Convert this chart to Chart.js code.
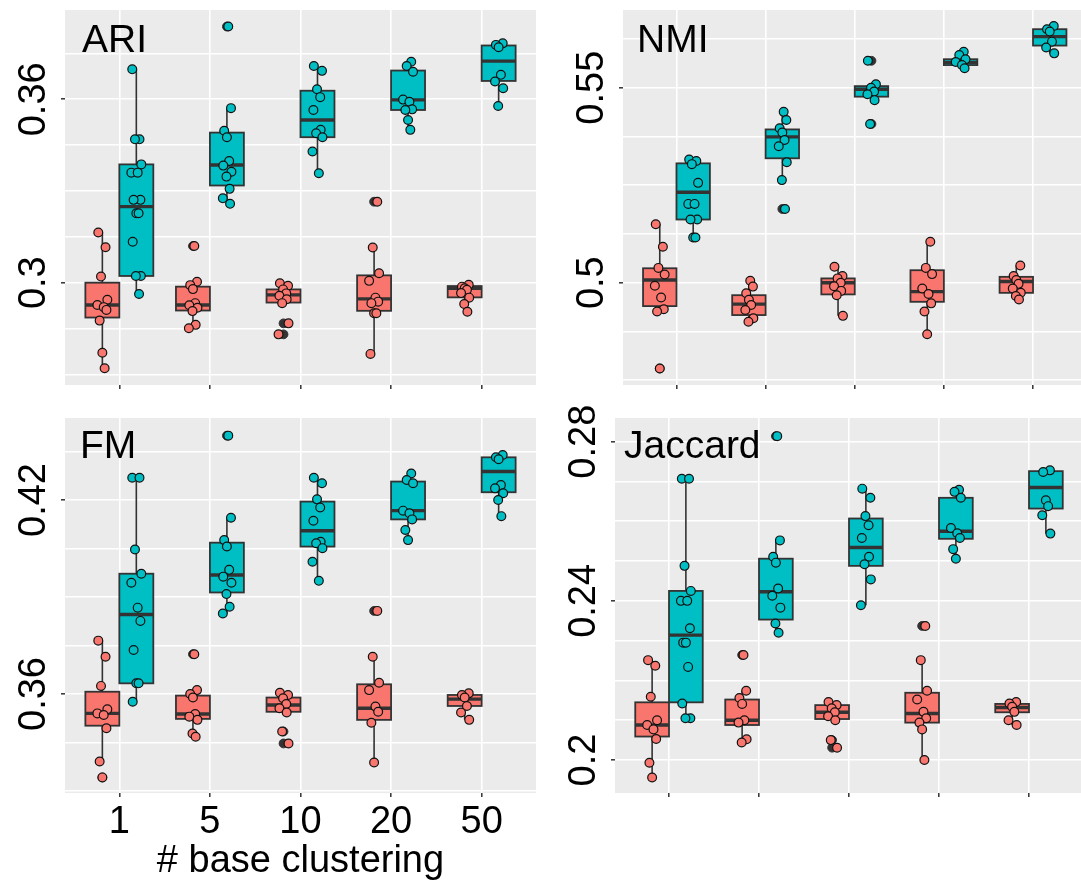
<!DOCTYPE html>
<html>
<head>
<meta charset="utf-8">
<script src="https://cdn.jsdelivr.net/npm/chart.js@4.4.1/dist/chart.umd.min.js"></script>
<style>
  html, body { margin: 0; padding: 0; background: #ffffff; width: 1081px; height: 882px; overflow: hidden; position: relative; }
  canvas { position: absolute; }
</style>
</head>
<body>
<canvas id="ari" width="540" height="400" style="left:0px;top:0px;"></canvas>
<canvas id="nmi" width="560" height="400" style="left:540px;top:0px;"></canvas>
<canvas id="fm" width="540" height="482" style="left:0px;top:400px;"></canvas>
<canvas id="jaccard" width="560" height="482" style="left:540px;top:400px;"></canvas>
<script>
// Number of base clusterings on the x axis
const categories = ['1', '5', '10', '20', '50'];

// ---- ARI ----
const ariSalmon = [
  [0.3164, 0.3116, 0.3020, 0.2944, 0.2927, 0.2920, 0.2911, 0.2876, 0.2771, 0.2720],
  [0.3120, 0.3003, 0.2992, 0.2979, 0.2933, 0.2926, 0.2918, 0.2907, 0.2862, 0.2851],
  [0.2998, 0.2990, 0.2978, 0.2965, 0.2957, 0.2946, 0.2933, 0.2867, 0.2831],
  [0.3265, 0.3115, 0.3031, 0.3006, 0.2951, 0.2938, 0.2933, 0.2900, 0.2900, 0.2767],
  [0.2993, 0.2987, 0.2982, 0.2977, 0.2966, 0.2951, 0.2930, 0.2905]
];
const ariTeal = [
  [0.3698, 0.3469, 0.3469, 0.3387, 0.3360, 0.3360, 0.3271, 0.3271, 0.3227, 0.3227, 0.3134, 0.3022, 0.3022, 0.2963],
  [0.3838, 0.3571, 0.3497, 0.3476, 0.3398, 0.3383, 0.3363, 0.3347, 0.3307, 0.3276, 0.3258],
  [0.3709, 0.3693, 0.3633, 0.3607, 0.3565, 0.3500, 0.3489, 0.3476, 0.3429, 0.3358],
  [0.3723, 0.3709, 0.3690, 0.3599, 0.3592, 0.3567, 0.3565, 0.3532, 0.3500],
  [0.3783, 0.3778, 0.3770, 0.3680, 0.3658, 0.3636, 0.3578]
];
// box summaries: [lower whisker, Q1, median, Q3, upper whisker]
const ariSalmonBox = [
  [0.2720, 0.2886, 0.2927, 0.3000, 0.3164],
  [0.2851, 0.2909, 0.2927, 0.2987, 0.3003],
  [0.2933, 0.2935, 0.2960, 0.2978, 0.2998],
  [0.2767, 0.2908, 0.2947, 0.3024, 0.3115],
  [0.2905, 0.2952, 0.2982, 0.2989, 0.2993]
];
const ariTealBox = [
  [0.2963, 0.3022, 0.3249, 0.3387, 0.3698],
  [0.3258, 0.3318, 0.3385, 0.3491, 0.3571],
  [0.3358, 0.3476, 0.3532, 0.3628, 0.3709],
  [0.3500, 0.3565, 0.3598, 0.3694, 0.3723],
  [0.3578, 0.3660, 0.3725, 0.3776, 0.3783]
];
const ariGrid = [0.27, 0.285, 0.30, 0.315, 0.33, 0.345, 0.36, 0.375];
const ariTicks = [0.30, 0.36];
const ariTickLabels = ['0.3', '0.36'];

// ---- NMI ----
const nmiSalmon = [
  [0.5150, 0.5092, 0.5038, 0.5021, 0.4992, 0.4962, 0.4932, 0.4926, 0.4780],
  [0.5005, 0.4990, 0.4973, 0.4956, 0.4943, 0.4930, 0.4909, 0.4900],
  [0.5041, 0.5017, 0.5011, 0.5000, 0.4991, 0.4979, 0.4968, 0.4915],
  [0.5105, 0.5038, 0.5022, 0.4985, 0.4971, 0.4947, 0.4926, 0.4868],
  [0.5044, 0.5017, 0.5007, 0.4997, 0.4985, 0.4974, 0.4966, 0.4957]
];
const nmiTeal = [
  [0.5316, 0.5312, 0.5304, 0.5256, 0.5202, 0.5202, 0.5162, 0.5162, 0.5116, 0.5116],
  [0.5438, 0.5417, 0.5396, 0.5385, 0.5366, 0.5350, 0.5309, 0.5263, 0.5189],
  [0.5569, 0.5509, 0.5500, 0.5490, 0.5483, 0.5468, 0.5407],
  [0.5592, 0.5584, 0.5573, 0.5566, 0.5558, 0.5550],
  [0.5658, 0.5650, 0.5644, 0.5618, 0.5603, 0.5588]
];
const nmiSalmonBox = [
  [0.4926, 0.4940, 0.5007, 0.5037, 0.5150],
  [0.4900, 0.4917, 0.4945, 0.4968, 0.5005],
  [0.4915, 0.4970, 0.5000, 0.5011, 0.5041],
  [0.4868, 0.4951, 0.4977, 0.5032, 0.5105],
  [0.4957, 0.4974, 0.5003, 0.5015, 0.5044]
];
const nmiTealBox = [
  [0.5116, 0.5162, 0.5232, 0.5306, 0.5316],
  [0.5263, 0.5319, 0.5374, 0.5393, 0.5438],
  [0.5468, 0.5477, 0.5496, 0.5504, 0.5509],
  [0.5550, 0.5558, 0.5565, 0.5573, 0.5592],
  [0.5588, 0.5608, 0.5631, 0.5650, 0.5658]
];
const nmiGrid = [0.475, 0.4875, 0.50, 0.5125, 0.525, 0.5375, 0.55, 0.5625];
const nmiTicks = [0.50, 0.55];
const nmiTickLabels = ['0.5', '0.55'];

// ---- FM ----
const fmSalmon = [
  [0.3765, 0.3715, 0.3625, 0.3553, 0.3540, 0.3535, 0.3494, 0.3391, 0.3342],
  [0.3723, 0.3612, 0.3600, 0.3589, 0.3538, 0.3530, 0.3520, 0.3478, 0.3468],
  [0.3604, 0.3597, 0.3587, 0.3569, 0.3556, 0.3543, 0.3484, 0.3447],
  [0.3857, 0.3715, 0.3635, 0.3612, 0.3561, 0.3545, 0.3511, 0.3388],
  [0.3602, 0.3597, 0.3589, 0.3563, 0.3543, 0.3520]
];
const fmTeal = [
  [0.4269, 0.4269, 0.4047, 0.3972, 0.3944, 0.3867, 0.3826, 0.3736, 0.3633, 0.3633, 0.3576],
  [0.4399, 0.4145, 0.4076, 0.4056, 0.3984, 0.3963, 0.3944, 0.3909, 0.3870, 0.3849],
  [0.4269, 0.4252, 0.4202, 0.4177, 0.4136, 0.4071, 0.4066, 0.4051, 0.4009, 0.3950],
  [0.4282, 0.4262, 0.4252, 0.4167, 0.4159, 0.4140, 0.4107, 0.4076],
  [0.4339, 0.4332, 0.4326, 0.4246, 0.4236, 0.4221, 0.4200, 0.4150]
];
const fmSalmonBox = [
  [0.3391, 0.3502, 0.3540, 0.3607, 0.3765],
  [0.3468, 0.3523, 0.3538, 0.3595, 0.3612],
  [0.3543, 0.3545, 0.3566, 0.3589, 0.3604],
  [0.3388, 0.3520, 0.3556, 0.3630, 0.3715],
  [0.3520, 0.3563, 0.3584, 0.3597, 0.3602]
];
const fmTealBox = [
  [0.3576, 0.3633, 0.3846, 0.3972, 0.4269],
  [0.3849, 0.3914, 0.3968, 0.4068, 0.4145],
  [0.3950, 0.4056, 0.4105, 0.4195, 0.4269],
  [0.4076, 0.4140, 0.4167, 0.4257, 0.4282],
  [0.4150, 0.4224, 0.4288, 0.4332, 0.4339]
];
const fmGrid = [0.33, 0.345, 0.36, 0.375, 0.39, 0.405, 0.42, 0.435];
const fmTicks = [0.36, 0.42];
const fmTickLabels = ['0.36', '0.42'];

// ---- Jaccard ----
const jacSalmon = [
  [0.2251, 0.2237, 0.2159, 0.2100, 0.2088, 0.2077, 0.2053, 0.1993, 0.1956],
  [0.2264, 0.2174, 0.2156, 0.2141, 0.2100, 0.2094, 0.2052, 0.2044],
  [0.2146, 0.2138, 0.2130, 0.2120, 0.2110, 0.2100, 0.2050, 0.2031],
  [0.2337, 0.2251, 0.2174, 0.2152, 0.2121, 0.2105, 0.2094, 0.2077, 0.2000],
  [0.2146, 0.2142, 0.2134, 0.2121, 0.2100, 0.2088]
];
const jacTeal = [
  [0.2707, 0.2707, 0.2488, 0.2425, 0.2400, 0.2400, 0.2331, 0.2295, 0.2295, 0.2234, 0.2142, 0.2105, 0.2105],
  [0.2814, 0.2552, 0.2511, 0.2496, 0.2431, 0.2413, 0.2383, 0.2343, 0.2320],
  [0.2682, 0.2659, 0.2613, 0.2590, 0.2558, 0.2511, 0.2492, 0.2454, 0.2389],
  [0.2679, 0.2674, 0.2659, 0.2583, 0.2570, 0.2558, 0.2530, 0.2506],
  [0.2728, 0.2724, 0.2653, 0.2638, 0.2615, 0.2569]
];
const jacSalmonBox = [
  [0.1956, 0.2059, 0.2088, 0.2145, 0.2251],
  [0.2044, 0.2088, 0.2100, 0.2152, 0.2174],
  [0.2100, 0.2103, 0.2120, 0.2138, 0.2146],
  [0.2000, 0.2094, 0.2117, 0.2169, 0.2251],
  [0.2088, 0.2120, 0.2132, 0.2141, 0.2146]
];
const jacTealBox = [
  [0.2105, 0.2145, 0.2314, 0.2425, 0.2707],
  [0.2320, 0.2353, 0.2423, 0.2506, 0.2552],
  [0.2389, 0.2488, 0.2534, 0.2607, 0.2682],
  [0.2506, 0.2556, 0.2575, 0.2659, 0.2679],
  [0.2569, 0.2632, 0.2685, 0.2726, 0.2728]
];
const jacGrid = [0.20, 0.21, 0.22, 0.23, 0.24, 0.25, 0.26, 0.27, 0.28];
const jacTicks = [0.20, 0.24, 0.28];
const jacTickLabels = ['0.2', '0.24', '0.28'];

// ---- drawing ----
const SALMON = '#F8766D';
const TEAL = '#00BFC4';
const DARK = '#333333';
const FONT = '"Liberation Sans", Arial, Helvetica, sans-serif';
const DODGE = 0.1875;      // half of the dodge width
const HALF_BOX = 0.1875;   // half box width
const jitter = [-0.045, 0.035, -0.015, 0.055, -0.055, 0.015, 0.045, -0.03, 0.0, 0.025, -0.04, 0.05, -0.005, 0.03];

const panels = [
  { id: 'ari', title: 'ARI', salmon: ariSalmon, teal: ariTeal, salmonBox: ariSalmonBox, tealBox: ariTealBox,
    grid: ariGrid, ticks: ariTicks, labels: ariTickLabels, yMin: 0.26653, yMax: 0.38921,
    pad: { left: 0, top: 10, right: 4, bottom: 0 }, yWidth: 65, xHeight: 15, showX: false, titleDx: 17, titleDy: 42 },
  { id: 'nmi', title: 'NMI', salmon: nmiSalmon, teal: nmiTeal, salmonBox: nmiSalmonBox, tealBox: nmiTealBox,
    grid: nmiGrid, ticks: nmiTicks, labels: nmiTickLabels, yMin: 0.47377, yMax: 0.56992,
    pad: { left: 0, top: 10, right: 13.5, bottom: 0 }, yWidth: 83, xHeight: 15, showX: false, titleDx: 14, titleDy: 42 },
  { id: 'fm', title: 'FM', salmon: fmSalmon, teal: fmTeal, salmonBox: fmSalmonBox, tealBox: fmTealBox,
    grid: fmGrid, ticks: fmTicks, labels: fmTickLabels, yMin: 0.32938, yMax: 0.44536,
    pad: { left: 0, top: 18, right: 4, bottom: 0 }, yWidth: 65, xHeight: 89, showX: true, titleDx: 15, titleDy: 40 },
  { id: 'jaccard', title: 'Jaccard', salmon: jacSalmon, teal: jacTeal, salmonBox: jacSalmonBox, tealBox: jacTealBox,
    grid: jacGrid, ticks: jacTicks, labels: jacTickLabels, yMin: 0.19171, yMax: 0.28596,
    pad: { left: 0, top: 18, right: 17, bottom: 0 }, yWidth: 75, xHeight: 89, showX: false, titleDx: 9, titleDy: 40 }
];

function isLabeled(p, v) {
  return p.ticks.some(t => Math.abs(t - v) < 1e-9);
}

function jitteredPoints(groups, side) {
  const out = [];
  groups.forEach((vals, ci) => {
    vals.forEach((v, k) => {
      out.push({ x: ci + 1 + side * DODGE + jitter[(k + ci * 5) % jitter.length], y: v });
    });
  });
  return out;
}

function outlierPoints(groups, boxes, side) {
  const out = [];
  groups.forEach((vals, ci) => {
    const lo = boxes[ci][0], hi = boxes[ci][4];
    vals.forEach(v => {
      if (v < lo - 1e-9 || v > hi + 1e-9) out.push({ x: ci + 1 + side * DODGE, y: v });
    });
  });
  return out;
}

function makeChart(p) {
  const panelBg = {
    id: 'panelBg',
    beforeDraw(chart) {
      const a = chart.chartArea, ctx = chart.ctx;
      ctx.save();
      ctx.fillStyle = '#EBEBEB';
      ctx.fillRect(a.left, a.top, a.right - a.left, a.bottom - a.top);
      ctx.restore();
    }
  };

  const boxes = {
    id: 'boxes',
    beforeDatasetsDraw(chart) {
      const xs = chart.scales.x, ys = chart.scales.y, ctx = chart.ctx;
      ctx.save();
      [[p.salmonBox, -1, SALMON], [p.tealBox, 1, TEAL]].forEach(([list, side, fill]) => {
        list.forEach((b, ci) => {
          const c = ci + 1 + side * DODGE;
          const xl = xs.getPixelForValue(c - HALF_BOX);
          const xr = xs.getPixelForValue(c + HALF_BOX);
          const xm = xs.getPixelForValue(c);
          const [lo, q1, md, q3, hi] = b.map(v => ys.getPixelForValue(v));
          ctx.strokeStyle = DARK;
          ctx.lineWidth = 1.6;
          ctx.beginPath();
          ctx.moveTo(xm, hi); ctx.lineTo(xm, q3);
          ctx.moveTo(xm, q1); ctx.lineTo(xm, lo);
          ctx.stroke();
          ctx.fillStyle = fill;
          ctx.fillRect(xl, q3, xr - xl, q1 - q3);
          ctx.lineWidth = 1.8;
          ctx.strokeRect(xl, q3, xr - xl, q1 - q3);
          ctx.lineWidth = 3.4;
          ctx.beginPath();
          ctx.moveTo(xl, md); ctx.lineTo(xr, md);
          ctx.stroke();
        });
      });
      ctx.restore();
    }
  };

  const labelsAndTitle = {
    id: 'labelsAndTitle',
    afterDraw(chart) {
      const a = chart.chartArea, ys = chart.scales.y, ctx = chart.ctx;
      ctx.save();
      ctx.fillStyle = '#000000';
      ctx.font = '38px ' + FONT;
      ctx.textAlign = 'center';
      ctx.textBaseline = 'alphabetic';
      p.ticks.forEach((v, i) => {
        ctx.save();
        ctx.translate(a.left - 20, ys.getPixelForValue(v));
        ctx.rotate(-Math.PI / 2);
        ctx.fillText(p.labels[i], 0, 0);
        ctx.restore();
      });
      ctx.font = '39px ' + FONT;
      ctx.textAlign = 'left';
      ctx.fillText(p.title, a.left + p.titleDx, a.top + p.titleDy);
      ctx.restore();
    }
  };

  return new Chart(document.getElementById(p.id), {
    type: 'scatter',
    data: {
      datasets: [
        { data: jitteredPoints(p.salmon, -1), backgroundColor: SALMON, borderColor: '#111111',
          pointRadius: 4.4, pointBorderWidth: 1.2, order: 0 },
        { data: jitteredPoints(p.teal, 1), backgroundColor: TEAL, borderColor: '#111111',
          pointRadius: 4.4, pointBorderWidth: 1.2, order: 0 },
        { data: outlierPoints(p.salmon, p.salmonBox, -1).concat(outlierPoints(p.teal, p.tealBox, 1)),
          backgroundColor: DARK, borderColor: DARK, pointRadius: 4.4, pointBorderWidth: 1, order: 1 }
      ]
    },
    options: {
      responsive: false,
      animation: false,
      devicePixelRatio: 1,
      events: [],
      layout: { padding: p.pad, autoPadding: false },
      plugins: { legend: { display: false }, tooltip: { enabled: false } },
      scales: {
        x: {
          type: 'linear', min: 0.4, max: 5.6,
          afterBuildTicks: s => { s.ticks = categories.map((_, i) => ({ value: i + 1 })); },
          afterFit: s => { s.height = p.xHeight; },
          border: { display: false },
          grid: { color: '#ffffff', lineWidth: 1.6, drawTicks: true, tickLength: 4, tickWidth: 1.5, tickColor: DARK },
          ticks: {
            display: p.showX, autoSkip: false, maxRotation: 0, minRotation: 0, padding: 3,
            color: '#000000', font: { family: FONT, size: 38 },
            callback: v => categories[Math.round(v) - 1]
          },
          title: {
            display: p.showX, text: '# base clustering', color: '#000000',
            font: { family: FONT, size: 38, lineHeight: 1.1 }, padding: { top: 0, bottom: 0 }
          }
        },
        y: {
          type: 'linear', min: p.yMin, max: p.yMax,
          afterBuildTicks: s => { s.ticks = p.grid.map(v => ({ value: v })); },
          afterFit: s => { s.width = p.yWidth; },
          border: { display: false },
          grid: {
            color: '#ffffff', lineWidth: 1.6, drawTicks: true, tickLength: 4, tickWidth: 1.5,
            tickColor: ctx => (ctx.tick && isLabeled(p, ctx.tick.value)) ? DARK : 'rgba(0,0,0,0)'
          },
          ticks: { display: false }
        }
      }
    },
    plugins: [panelBg, boxes, labelsAndTitle]
  });
}

panels.forEach(makeChart);
</script>
</body>
</html>
